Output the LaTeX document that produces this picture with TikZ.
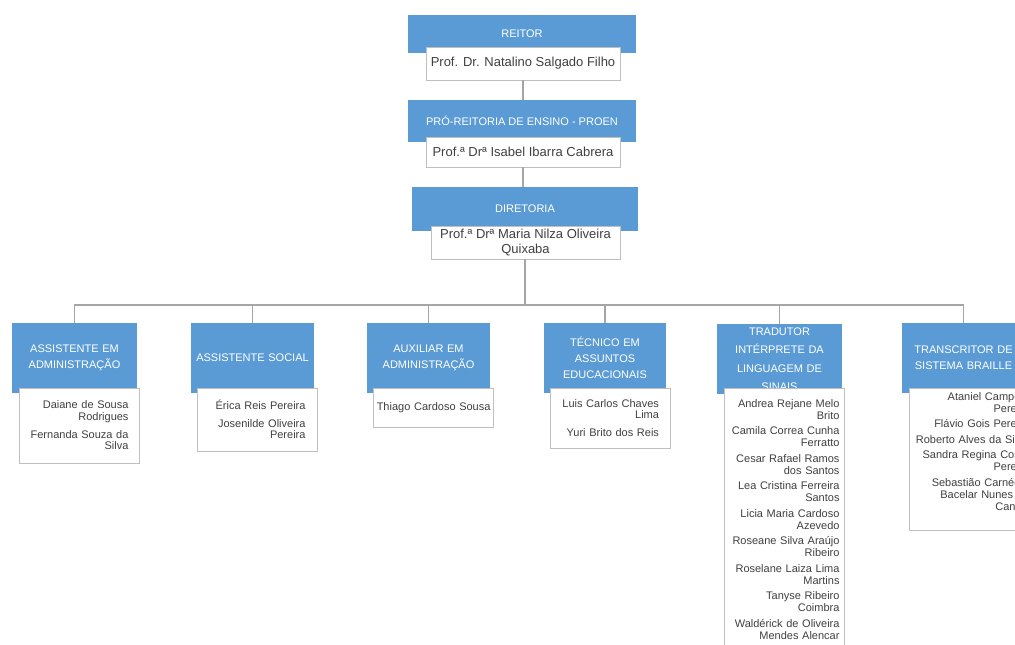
\documentclass[tikz,border=0pt]{standalone}
\usepackage{fontspec}
\setmainfont{Liberation Sans}
\definecolor{hblue}{HTML}{5B9BD5}
\definecolor{ntext}{HTML}{404040}
\definecolor{lgray}{HTML}{BFBFBF}
\definecolor{lline}{HTML}{A5A5A5}
\begin{document}
\begin{tikzpicture}[x=1pt,y=-1pt,
  hdr/.style={fill=hblue, text=white, inner sep=0pt, align=center, font=\fontsize{11}{16}\selectfont},
  topname/.style={draw=lgray, fill=white, text=ntext, inner sep=0pt, align=center, font=\fontsize{13}{15}\selectfont, minimum width=194pt},
  namebox/.style={draw=lgray, fill=white, text=ntext, inner sep=0pt, align=right, minimum width=120pt, font=\fontsize{11}{11.5}\selectfont},
  conn/.style={draw=lline, line width=1.2pt}
]
\useasboundingbox (0,0) rectangle (1015,645);
\clip (0,0) rectangle (1015,645);
\fill[white] (0,0) rectangle (1015,645);

% top chain
\node[hdr, minimum width=228pt, minimum height=38pt] (rb) at (522,34) {REITOR};
\node[topname, minimum height=33pt] (rw) at (523,63.5) {Prof. Dr. Natalino Salgado Filho};
\node[hdr, minimum width=228pt, minimum height=42pt] (pb) at (522,121) {PRÓ-REITORIA DE ENSINO - PROEN};
\node[topname, minimum height=30pt] (pw) at (523,152) {Prof.ª Drª Isabel Ibarra Cabrera};
\node[hdr, minimum width=226pt, minimum height=44pt] (db) at (525,209) {DIRETORIA};
\node[topname, minimum width=189pt, minimum height=33pt] (dw) at (525.5,242.5) {Prof.ª Drª Maria Nilza Oliveira\\Quixaba};

% column headers
\node[hdr, minimum width=125pt, minimum height=70pt, text width=118pt] (h1) at (74.5,358) {ASSISTENTE EM\\ADMINISTRAÇÃO};
\node[hdr, minimum width=123pt, minimum height=70pt, text width=118pt] (h2) at (252.5,358) {ASSISTENTE SOCIAL};
\node[hdr, minimum width=123pt, minimum height=70pt, text width=118pt] (h3) at (428.5,358) {AUXILIAR EM\\ADMINISTRAÇÃO};
\node[hdr, minimum width=122pt, minimum height=70pt, text width=118pt] (h4) at (605,358) {TÉCNICO EM\\ASSUNTOS\\EDUCACIONAIS};
\node[hdr, minimum width=125pt, minimum height=70pt, text width=118pt, font=\fontsize{11}{18.5}\selectfont] (h5) at (779.5,359) {TRADUTOR\\INTÉRPRETE DA\\LINGUAGEM DE\\SINAIS};
\node[hdr, minimum width=123pt, minimum height=70pt, text width=118pt] (h6) at (963.5,358) {TRANSCRITOR DE\\SISTEMA BRAILLE};

% connectors
\draw[conn] (rw.south) -- (rw.south |- pb.north);
\draw[conn] (pw.south) -- (pw.south |- db.north);
\coordinate (bus) at (525,305);
\draw[conn] (dw.south -| bus) -- (bus);
\foreach \n in {h1,h2,h3,h4,h5,h6} \draw[conn] (bus) -| (\n.north);

% name boxes
\node[namebox, minimum height=75pt, text width=98pt] (n1) at (79.5,425.5)
  {Daiane de Sousa\\Rodrigues\\[6.5pt]Fernanda Souza da\\Silva};
\node[namebox, minimum height=63pt, text width=96pt] (n2) at (257.5,419.5)
  {Érica Reis Pereira\\[6pt]Josenilde Oliveira\\Pereira};
\node[namebox, minimum height=39pt, text width=114pt] (n3) at (433.5,407.5)
  {Thiago Cardoso Sousa};
\node[namebox, minimum height=60pt, text width=98pt] (n4) at (610,418)
  {Luis Carlos Chaves\\Lima\\[6pt]Yuri Brito dos Reis};
\node[namebox, anchor=north, text width=110pt, inner ysep=11pt, font=\fontsize{11}{12}\selectfont] (n5) at (784.5,388)
  {Andrea Rejane Melo\\Brito\\[3.5pt]
   Camila Correa Cunha\\Ferratto\\[3.5pt]
   Cesar Rafael Ramos\\dos Santos\\[3.5pt]
   Lea Cristina Ferreira\\Santos\\[3.5pt]
   Licia Maria Cardoso\\Azevedo\\[3.5pt]
   Roseane Silva Araújo\\Ribeiro\\[3.5pt]
   Roselane Laiza Lima\\Martins\\[3.5pt]
   Tanyse Ribeiro\\Coimbra\\[3.5pt]
   Waldérick de Oliveira\\Mendes Alencar};
\node[namebox, anchor=north, minimum width=122pt, text width=118pt, inner ysep=4pt, text depth=126pt, font=\fontsize{11}{12}\selectfont] (n6) at (970,388)
  {Ataniel Campelo\\Pereira\\[3.5pt]
   Flávio Gois Pereira\\[3.5pt]
   Roberto Alves da Silva\\[3.5pt]
   Sandra Regina Costa\\Pereira\\[3.5pt]
   Sebastião Carnégie\\Bacelar Nunes de\\Canalli};
\end{tikzpicture}
\end{document}
